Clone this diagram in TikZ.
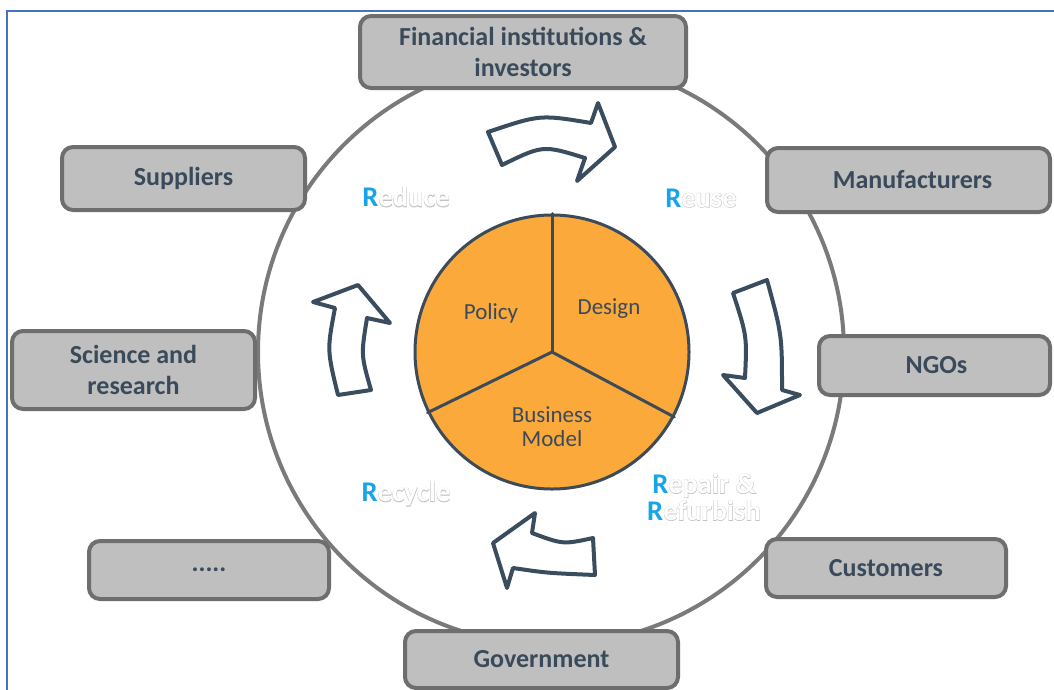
\documentclass[tikz,border=0pt]{standalone}
\usepackage{fontspec}
\setmainfont{Carlito}
\newfontfamily\olfont[FakeBold=2.5]{Carlito Bold}
\usetikzlibrary{calc}
\definecolor{boxfill}{HTML}{BFBFBF}
\definecolor{boxline}{HTML}{6E6E6E}
\definecolor{ringc}{HTML}{7A7A7A}
\definecolor{pief}{HTML}{FBA93B}
\definecolor{piel}{HTML}{3D4B59}
\definecolor{txt}{HTML}{3B4A5A}
\definecolor{arrline}{HTML}{3A4D5E}
\definecolor{blueframe}{HTML}{4472C4}
\definecolor{rblue}{HTML}{18A4E8}
\definecolor{olc}{HTML}{C4C4C4}
\newcommand\wout[1]{\leavevmode\rlap{\olfont\textcolor{olc}{#1}}\textcolor{white}{#1}}
\tikzset{
  box/.style={draw=boxline, fill=boxfill, line width=4pt, rounded corners=11pt, text=txt,
    font=\fontsize{26}{31}\selectfont\bfseries, align=center, inner sep=0pt},
  cyc/.style={draw=arrline, fill=white, line width=4pt, line join=round},
  pielbl/.style={text=txt, font=\fontsize{23}{24}\selectfont, align=center, inner sep=0pt},
  rlbl/.style={font=\fontsize{28.5}{27}\selectfont\bfseries, align=center, inner sep=0pt},
}
\begin{document}
\begin{tikzpicture}[x=1pt,y=-1pt]
\useasboundingbox (0,0) rectangle (1054,689);
\clip (0,0) rectangle (1054,689);
\fill[white] (0,0) rectangle (1054,689);
\draw[blueframe, line width=2pt] (7,700) -- (7,11) -- (1060,11);
% ring
\node[draw=ringc, line width=4pt, circle, minimum size=586pt, inner sep=0pt] (ring) at (551,352) {};
% pie
\node[circle, fill=pief, draw=piel, line width=3pt, minimum size=274pt, inner sep=0pt] (pie) at (552,352) {};
\draw[piel, line width=3pt, line cap=round] (pie.center) -- (pie.90);
\draw[piel, line width=3pt, line cap=round] (pie.center) -- (pie.206);
\draw[piel, line width=3pt, line cap=round] (pie.center) -- (pie.-28);
\node[pielbl] (policy) at (491,313) {Policy};
\node[pielbl] (design) at (609,309) {Design};
\node[pielbl] (bm) at (552,427) {Business\\Model};
% cycle arrows
\draw[cyc] (488,132) .. controls (540,114.5) .. (591,123) -- (598,103) -- (615,147) -- (577,181) -- (585,158) .. controls (543,145) .. (502,165) -- cycle;
\draw[cyc] (733,293) -- (767,280) .. controls (782,335) .. (782,390) -- (800,395) -- (757,413) -- (723,375) -- (745,378) .. controls (747,336) .. (733,293) -- cycle;
\draw[cyc] (593,538) .. controls (563,544.5) .. (532,533) -- (535,513) -- (493,543) -- (507,588) -- (513,568) .. controls (547,573) .. (595,575) -- cycle;
\draw[cyc] (338,395) .. controls (327,350) .. (335,308) -- (313,302) -- (358,285) -- (390,323) -- (367,318) .. controls (361,355) .. (371,390) -- cycle;
% R labels
\node[rlbl] (reduce) at (406,197) {\textcolor{rblue}{R}\wout{educe}};
\node[rlbl] (reuse) at (701,198) {\textcolor{rblue}{R}\wout{euse}};
\node[rlbl] (recycle) at (406,494) {\textcolor{rblue}{R}\wout{ecycle}};
\node[rlbl] (repair) at (704,497) {\textcolor{rblue}{R}\wout{epair \&}\\\textcolor{rblue}{R}\wout{efurbish}};
% stakeholder boxes
\node[box, minimum width=326pt, minimum height=72pt] (fin) at (523,52) {Financial institutions \&\\investors};
\node[box, minimum width=243pt, minimum height=63pt] (sup) at (183.5,178.5) {Suppliers};
\node[box, minimum width=283pt, minimum height=64pt] (man) at (908.5,180) {\hspace*{8pt}Manufacturers};
\node[box, minimum width=243pt, minimum height=78pt] (sci) at (133.5,370) {Science and\\research};
\node[box, minimum width=231pt, minimum height=59pt] (ngo) at (934.5,365.5) {\hspace*{4pt}NGOs};
\node[box, minimum width=240pt, minimum height=58pt] (dots) at (209,570) {.....};
\node[box, minimum width=240pt, minimum height=58pt] (cus) at (886,568) {Customers};
\node[box, minimum width=273pt, minimum height=57pt] (gov) at (541.5,659.5) {Government};
\end{tikzpicture}
\end{document}
